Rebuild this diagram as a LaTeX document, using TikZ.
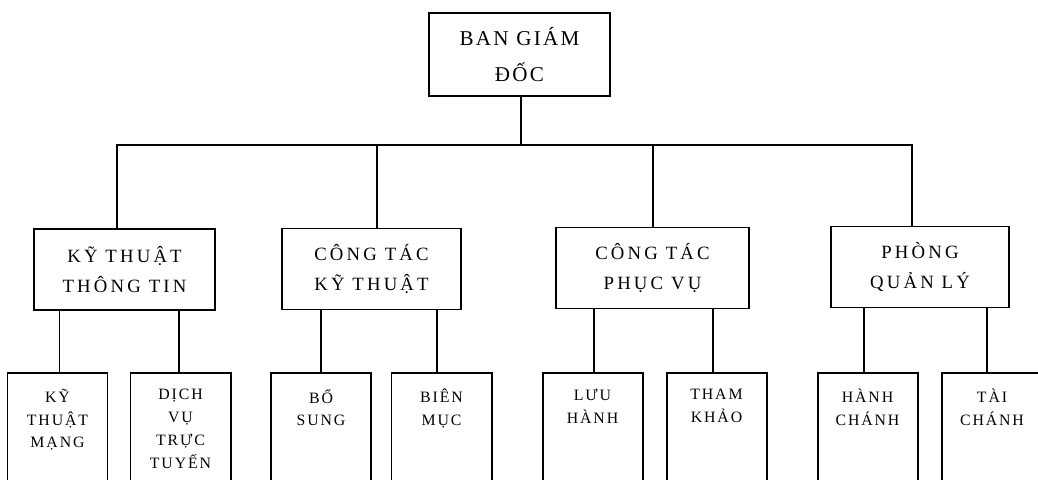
\documentclass[tikz,border=0pt]{standalone}
\usepackage{fontspec}
\setmainfont{Liberation Serif}
\usetikzlibrary{positioning}

\begin{document}
\begin{tikzpicture}[x=0.03cm,y=-0.03cm,line width=1.7pt]
    \tikzset{
      head/.style={draw, inner sep=0pt, minimum width=5.43cm, minimum height=2.49cm, align=center,
        font=\fontsize{18}{30}\selectfont\addfontfeatures{LetterSpace=11}},
      dept/.style={draw, inner sep=0pt, minimum height=2.43cm, align=center,
        font=\fontsize{16}{25}\selectfont\addfontfeatures{LetterSpace=17}},
      unit/.style={draw, inner sep=0pt, minimum width=3cm, minimum height=4cm, anchor=north},
      unitlabel/.style={inner sep=0pt, anchor=north, align=center,
        font=\fontsize{13.5}{19.5}\selectfont\addfontfeatures{LetterSpace=12}}
    }
    \useasboundingbox (0,0) rectangle (1038,480);
    \clip (0,0) rectangle (1038,480);
    \node[head] (bgd) at (519.5,54.5) {BAN GIÁM\\ĐỐC};
    \node[dept, minimum width=5.43cm] (ktt) at (124.5,269.5) {KỸ THUẬT\\THÔNG TIN};
    \node[dept, minimum width=5.37cm] (ctkt) at (371.5,269) {CÔNG TÁC\\KỸ THUẬT};
    \node[dept, minimum width=5.79cm] (ctpv) at (652.5,268) {CÔNG TÁC\\PHỤC VỤ};
    \node[dept, minimum width=5.34cm] (pql) at (920,267) {PHÒNG\\QUẢN LÝ};
    \coordinate (jn) at (521,145);
    \draw ([xshift=1.5*0.03cm]bgd.south) -- (jn);
    \foreach \d/\dx in {ktt/-7.5,ctkt/5.5,ctpv/0,pql/-8}
      \draw (jn) -| ([xshift=\dx*0.03cm]\d.north);
    \foreach \u/\x/\dx/\d/\txt in {ktm/57.5/2/ktt/{KỸ\\THUẬT\\MẠNG},
        dvtt/180.5/-1.5/ktt/{DỊCH\\VỤ\\TRỰC\\TUYẾN},
        bs/321/0/ctkt/{BỔ\\SUNG}, bm/441.5/-4.5/ctkt/{BIÊN\\MỤC},
        lh/592.5/1.5/ctpv/{LƯU\\HÀNH}, tk/716.5/-3.5/ctpv/{THAM\\KHẢO},
        hc/867.5/-3.5/pql/{HÀNH\\CHÁNH}, tc/992/-5/pql/{TÀI\\CHÁNH}} {
      \node[unit] (\u) at (\x,372) {};
      \node[unitlabel] (\u-t) at ([yshift=-16*0.03cm]\u.north) {\txt};
      \draw ([xshift=\dx*0.03cm]\u.north) -- ([xshift=\dx*0.03cm]\u.north |- \d.south);
    }
  \end{tikzpicture}
\end{document}
